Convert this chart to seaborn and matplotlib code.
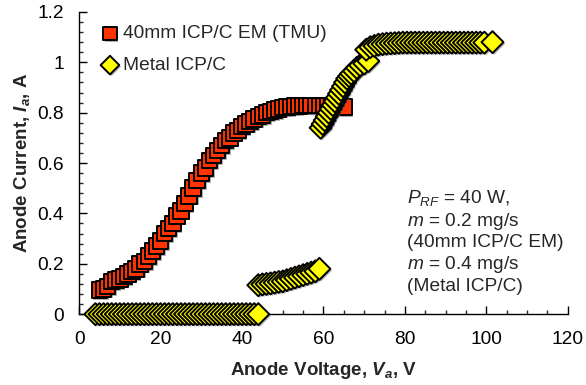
import matplotlib
matplotlib.use("Agg")
import matplotlib.pyplot as plt
import matplotlib.patheffects as pe
import seaborn as sns
import pandas as pd
from matplotlib.ticker import MultipleLocator, FuncFormatter

# 40mm ICP/C EM (TMU) - anode voltage (V) and current (A)
em_v = [5, 6, 7, 8, 9, 10, 11, 12, 13, 14, 15, 16, 17, 18, 19, 20, 21, 22, 23, 24,
        25, 26, 27, 28, 29, 30, 31, 32, 33, 34, 35, 36, 37, 38, 39, 40, 41, 42, 43, 44,
        45, 46, 47, 48, 49, 50, 51, 52, 53, 54, 55, 56, 57, 58, 59, 60, 61, 62, 63, 65]
em_i = [0.095, 0.10, 0.11, 0.13, 0.135, 0.14, 0.15, 0.16, 0.17, 0.18,
        0.20, 0.21, 0.23, 0.25, 0.27, 0.29, 0.32, 0.34, 0.36, 0.39,
        0.41, 0.44, 0.47, 0.50, 0.53, 0.56, 0.58, 0.61, 0.63, 0.65,
        0.67, 0.69, 0.70, 0.72, 0.73, 0.745, 0.755, 0.765, 0.775, 0.785,
        0.79, 0.80, 0.805, 0.81, 0.815, 0.82, 0.822, 0.825, 0.826, 0.827,
        0.828, 0.828, 0.828, 0.828, 0.828, 0.828, 0.827, 0.826, 0.825, 0.822]

# Metal ICP/C, four branches
metal_v1 = [4, 5, 6, 7, 8, 9, 10, 11, 12, 13, 14, 15, 16, 17, 18, 19, 20, 21, 22, 23,
            24, 25, 26, 27, 28, 29, 30, 31, 32, 33, 34, 35, 36, 37, 38, 39, 40, 41, 42, 43, 44]
metal_i1 = [0, 0, 0, 0, 0, 0, 0, 0, 0, 0, 0, 0, 0, 0, 0, 0, 0, 0, 0, 0,
            0, 0, 0, 0, 0, 0, 0, 0, 0, 0, 0, 0, 0, 0, 0, 0, 0, 0, 0, 0, 0]
metal_v2 = [44, 45, 46, 47, 48, 49, 50, 51, 52, 53, 54, 55, 56, 57, 58, 59]
metal_i2 = [0.115, 0.118, 0.12, 0.122, 0.125, 0.128, 0.13, 0.135, 0.14, 0.145,
            0.15, 0.155, 0.16, 0.165, 0.17, 0.18]
metal_v3 = [59.3, 59.8, 60.3, 60.8, 61.3, 61.8, 62.3, 62.8, 63.3, 63.8,
            64.3, 64.8, 65.3, 65.8, 66.3, 66.8, 67.5, 68.2, 69, 70, 71]
metal_i3 = [0.74, 0.755, 0.77, 0.785, 0.80, 0.815, 0.83, 0.845, 0.86, 0.875,
            0.89, 0.905, 0.92, 0.935, 0.945, 0.955, 0.965, 0.978, 0.988, 0.995, 1.005]
metal_v4 = [70.5, 71.5, 72.5, 73.5, 74.5, 75.5, 76.5, 77.5, 78.5, 79.5,
            80.5, 81.5, 82.5, 83.5, 84.5, 85.5, 86.5, 87.5, 88.5, 89.5,
            90.5, 91.5, 92.5, 93.5, 94.5, 95.5, 96.5, 97.5, 98.5, 99.5, 101.5]
metal_i4 = [1.05, 1.06, 1.065, 1.07, 1.072, 1.074, 1.075, 1.076, 1.077, 1.078,
            1.078, 1.078, 1.078, 1.078, 1.078, 1.078, 1.078, 1.078, 1.078, 1.078,
            1.078, 1.078, 1.078, 1.078, 1.078, 1.078, 1.078, 1.078, 1.078, 1.078, 1.08]

em_label = "40mm ICP/C EM (TMU)"
metal_label = "Metal ICP/C"

df_em = pd.DataFrame({"V": em_v, "I": em_i})
df_metal = pd.DataFrame({"V": metal_v1 + metal_v2 + metal_v3 + metal_v4,
                         "I": metal_i1 + metal_i2 + metal_i3 + metal_i4})

sns.set_style("ticks")
plt.rcParams["font.family"] = ["Liberation Sans", "DejaVu Sans"]
plt.rcParams["mathtext.fontset"] = "custom"
plt.rcParams["mathtext.rm"] = "Liberation Sans"
plt.rcParams["mathtext.it"] = "Liberation Sans:italic"
plt.rcParams["mathtext.bf"] = "Liberation Sans:bold"
plt.rcParams["mathtext.bfit"] = "Liberation Sans:italic:bold"

FS = 13.8
fig = plt.figure(figsize=(5.86, 3.85), dpi=100)
ax = fig.add_axes([0.135, 0.184, 0.834, 0.785])

shadow = [pe.SimplePatchShadow(offset=(1.2, -1.2), shadow_rgbFace="0.4", alpha=0.5), pe.Normal()]

sns.scatterplot(data=df_em, x="V", y="I", ax=ax, marker="s", s=125,
                color="#FF3300", edgecolor="black", linewidth=1.4, label=em_label,
                zorder=3, clip_on=False)
sns.scatterplot(data=df_metal, x="V", y="I", ax=ax, marker="D", s=125,
                color="#FFFF00", edgecolor="black", linewidth=1.4, label=metal_label,
                zorder=4, clip_on=False)
for coll in ax.collections:
    coll.set_path_effects(shadow)

ax.set_xlim(0, 120)
ax.set_ylim(0, 1.2)
ax.xaxis.set_major_locator(MultipleLocator(20))
ax.xaxis.set_minor_locator(MultipleLocator(5))
ax.yaxis.set_major_locator(MultipleLocator(0.2))
ax.yaxis.set_minor_locator(MultipleLocator(0.04))
ax.yaxis.set_major_formatter(FuncFormatter(lambda v, p: f"{v:g}"))
ax.tick_params(which="major", direction="in", length=6, width=1, labelsize=FS, colors="black")
ax.tick_params(axis="x", which="major", pad=12)
ax.tick_params(axis="y", which="major", pad=11)
ax.tick_params(which="minor", direction="in", length=3, width=1)
for s in ["top", "right"]:
    ax.spines[s].set_visible(False)
for s in ["left", "bottom"]:
    ax.spines[s].set_linewidth(1)
    ax.spines[s].set_color("black")

ax.set_xlabel(r"Anode Voltage, $\mathbfit{V}_{\mathbfit{a}}$, V", fontsize=13.5, fontweight="bold", labelpad=9)
ax.set_ylabel(r"Anode Current, $\mathbfit{I}_{\mathbfit{a}}$, A", fontsize=13.5, fontweight="bold", labelpad=4)

leg = ax.legend(loc="upper left", bbox_to_anchor=(0.02, 0.995), frameon=False, fontsize=FS,
                handletextpad=0.2, labelspacing=0.75, borderaxespad=0.2, handlelength=1.0,
                markerscale=0.85)

ax.text(0.67, 0.418,
        "$P_{RF}$ = 40 W,\n$m$ = 0.2 mg/s\n(40mm ICP/C EM)\n$m$ = 0.4 mg/s\n(Metal ICP/C)",
        transform=ax.transAxes, fontsize=FS, va="top", ha="left", linespacing=1.2)

fig.savefig("out.png", dpi=100)
